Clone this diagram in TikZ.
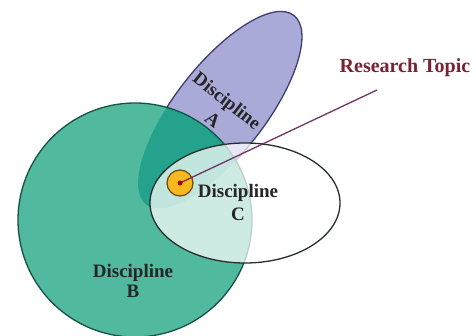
\documentclass[tikz,border=0pt]{standalone}
\usepackage{fontspec}
\setmainfont{Liberation Serif}
\usetikzlibrary{positioning}
\usetikzlibrary{calc}

\definecolor{discA}{RGB}{170,170,216}
\definecolor{discAedge}{RGB}{62,62,112}
\definecolor{discB}{RGB}{80,185,158}
\definecolor{discBedge}{RGB}{22,82,72}
\definecolor{discAB}{RGB}{36,162,140}
\definecolor{discCedge}{RGB}{40,46,46}
\definecolor{topicfill}{RGB}{246,186,30}
\definecolor{topicedge}{RGB}{110,70,20}
\definecolor{topictext}{RGB}{122,34,50}
\definecolor{pointer}{RGB}{112,52,104}

\begin{document}
\begin{tikzpicture}[x=1pt,y=-1pt,line width=1.3pt]
	\tikzstyle{disc text}=[font=\fontsize{19}{21}\selectfont\bfseries,text=black!85,inner sep=1pt]
	\tikzstyle{disc A}=[rotate around={52:(220,110)}]
	
	\useasboundingbox (0,0) rectangle (476,336);
	
	% discipline A, then B on top, then their overlap
	\filldraw[fill=discA,draw=discAedge,disc A] (220,110) ellipse [x radius=120,y radius=45];
	\fill[discB] (135,220) circle (117);
	\begin{scope}
		\clip (135,220) circle (117);
		\fill[discAB,disc A] (220,110) ellipse [x radius=120,y radius=45];
	\end{scope}
	\draw[discBedge] (135,220) circle (117);
	
	% discipline C
	\filldraw[fill=white,fill opacity=0.72,draw=discCedge] (245,203) ellipse [x radius=95,y radius=60];
	
	\node[disc text,rotate=-38] (A_1) at (226,102) {Discipline};
	\node[disc text,rotate=-38] (A_2) at (213,120) {A};
	\node[disc text]            (B_1) at (133,273) {Discipline};
	\node[disc text]            (B_2) [below=0pt of B_1] {B};
	\node[disc text]            (C_1) at (238,193) {Discipline};
	\node[disc text]            (C_2) [below=3pt of C_1] {C};
	
	% the topic and its pointer
	\node[circle,draw=topicedge,fill=topicfill,minimum size=26pt,inner sep=0pt,line width=1.2pt] (topic) at (180,183) {};
	\node[font=\fontsize{20}{22}\selectfont\bfseries,text=topictext] (research) at (405,68) {Research Topic};
	\coordinate (tip) at (377,90);
	\draw[pointer,line width=1.3pt] (topic.center) -- (tip);
	\fill[red!70!black] (topic.center) circle (2.5);
\end{tikzpicture}
\end{document}
